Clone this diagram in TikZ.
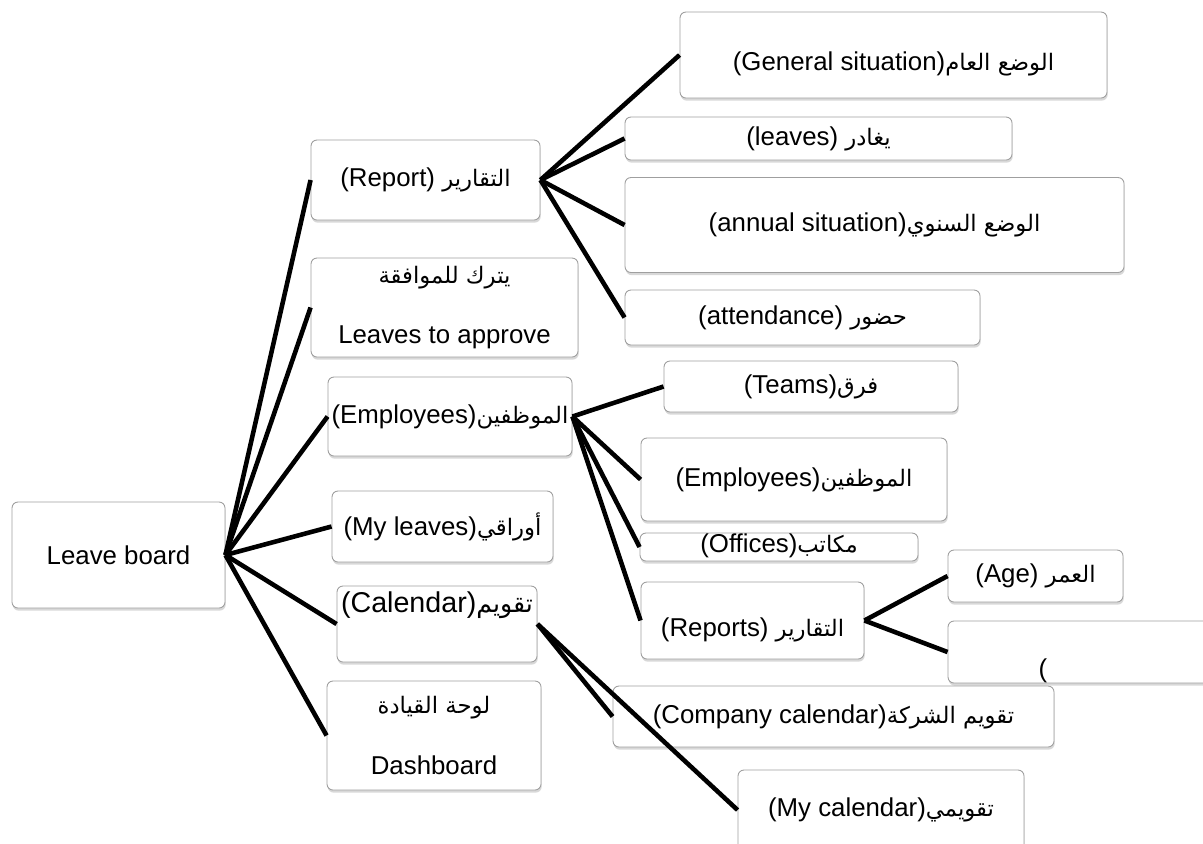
\documentclass[tikz,border=0pt]{standalone}
\usepackage{fontspec}
\setmainfont{Liberation Sans}
\newfontfamily\arabicfont[Script=Arabic,Scale=0.88]{DejaVu Sans}
\TeXXeTstate=1
\usetikzlibrary{shadows}
\newcommand{\artxt}[1]{{\arabicfont\beginR #1\endR}}

\begin{document}
\begin{tikzpicture}[x=0.02cm, y=-0.02cm, font=\fontsize{14.7}{18}\selectfont,
	box/.style={draw=gray!75, line width=0.5pt, rounded corners=0.12cm, fill=white, inner sep=0pt,
		drop shadow={shadow xshift=0.4pt, shadow yshift=-1.5pt, opacity=0.3}},
	boxsize/.style 2 args={minimum width=#1*0.02cm, minimum height=#2*0.02cm},
	wire/.style={line width=2.6pt, black}]

	\useasboundingbox[fill=white] (0,0) rectangle (1203,843);

	% --- root and first level ---
	\node[box, boxsize={213}{106}] (board) at (118.5,555) {Leave board};
	\node[box, boxsize={229}{80}] (report) at (425.5,180) {(Report) \artxt{التقارير}};
	\node[box, boxsize={267}{99}, align=center] (approve) at (444.5,307.5) {\artxt{يترك للموافقة}\\[0.55cm]Leaves to approve};
	\node[box, boxsize={244}{79}] (staff) at (450,416.5) {(Employees)\artxt{الموظفين}};
	\node[box, boxsize={221}{71}] (myleaves) at (442.5,526.5) {(My leaves)\artxt{أوراقي}};
	\node[box, boxsize={200}{76}] (cal) at (437,624) {};
	\node[font=\fontsize{16.3}{19}\selectfont] (caltxt) at (437,605) {(Calendar)\artxt{تقويم}};
	\node[box, boxsize={214}{109}, align=center] (dash) at (434,735.5) {\artxt{لوحة القيادة}\\[0.6cm]Dashboard};

	% --- reports ---
	\node[box, boxsize={427}{86}, text height=18.4pt, text depth=1.2pt] (general) at (893.5,55) {(General situation)\artxt{الوضع العام}};
	\node[box, boxsize={387}{43}] (leaves) at (818.5,138.5) {(leaves) \artxt{يغادر}};
	\node[box, boxsize={499}{95}] (annual) at (874.5,225) {(annual situation)\artxt{الوضع السنوي}};
	\node[box, boxsize={355}{55}] (attend) at (802.5,317.5) {(attendance) \artxt{حضور}};

	% --- employees ---
	\node[box, boxsize={294}{51}] (teams) at (811,386.5) {(Teams)\artxt{فرق}};
	\node[box, boxsize={306}{83}] (subemp) at (794,479.5) {(Employees)\artxt{الموظفين}};
	\node[box, boxsize={278}{28}, text height=9pt, text depth=3pt] (offices) at (779,547) {(Offices)\artxt{مكاتب}};
	\node[box, boxsize={223}{77}, text height=20pt, text depth=1.6pt] (reports) at (752.5,620.5) {(Reports) \artxt{التقارير}};
	\node[box, boxsize={175}{52}] (age) at (1035.5,576) {(Age) \artxt{العمر}};
	\node[box, boxsize={267}{62}] (blank) at (1081.5,652) {};
	\node (paren) at (1043,671) {(};

	% --- calendars ---
	\node[box, boxsize={441}{61}] (company) at (833.5,716.5) {(Company calendar)\artxt{تقويم الشركة}};
	\node[box, boxsize={286}{80}] (mycal) at (881,810) {(My calendar)\artxt{تقويمي}};

	% --- connectors ---
	\foreach \t in {report, approve, staff, myleaves, cal, dash} {
		\draw[wire] (board.east) -- (\t.west);
	}
	\foreach \t in {general, leaves, annual, attend} {
		\draw[wire] (report.east) -- (\t.west);
	}
	\foreach \t in {teams, subemp, offices, reports} {
		\draw[wire] (staff.east) -- (\t.west);
	}
	\foreach \t in {age, blank} {
		\draw[wire] (reports.east) -- (\t.west);
	}
	\foreach \t in {company, mycal} {
		\draw[wire] (cal.east) -- (\t.west);
	}

\end{tikzpicture}
\end{document}
